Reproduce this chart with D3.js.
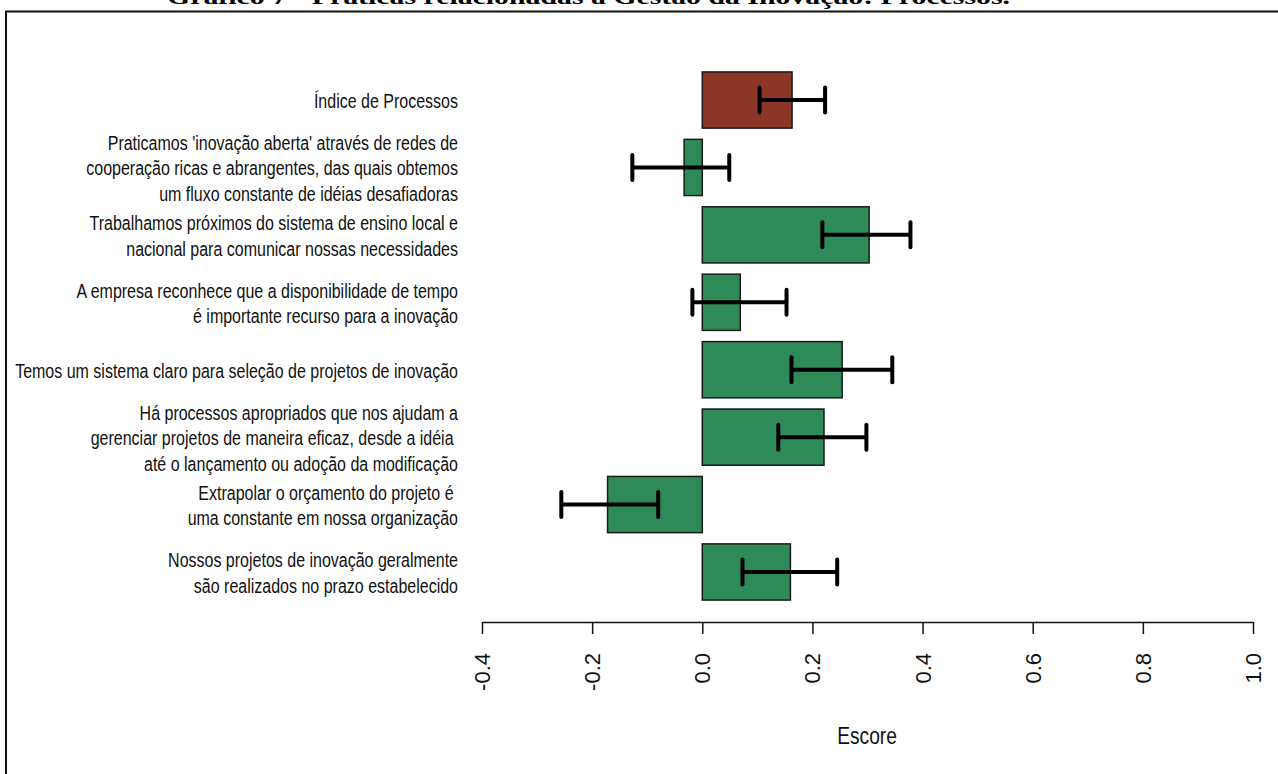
<!DOCTYPE html>
<html>
<head>
<meta charset="utf-8">
<script src="https://cdn.jsdelivr.net/npm/d3@7"></script>
<style>
  body { margin: 0; background: #fff; }
  svg { display: block; }
</style>
</head>
<body>
<div id="grafico"></div>
<script>
const WIDTH = 1278;
const HEIGHT = 774;

// dados (de cima para baixo)
const categorias = [
  ["Índice de Processos"],
  ["Praticamos 'inovação aberta' através de redes de", "cooperação ricas e abrangentes, das quais obtemos", "um fluxo constante de idéias desafiadoras"],
  ["Trabalhamos próximos do sistema de ensino local e", "nacional para comunicar nossas necessidades"],
  ["A empresa reconhece que a disponibilidade de tempo", "é importante recurso para a inovação"],
  ["Temos um sistema claro para seleção de projetos de inovação"],
  ["Há processos apropriados que nos ajudam a", "gerenciar projetos de maneira eficaz, desde a idéia ", "até o lançamento ou adoção da modificação"],
  ["Extrapolar o orçamento do projeto é ", "uma constante em nossa organização"],
  ["Nossos projetos de inovação geralmente", "são realizados no prazo estabelecido"]
];
const escores = [0.163, -0.033, 0.303, 0.069, 0.254, 0.221, -0.172, 0.160];
const limInf = [0.104, -0.127, 0.218, -0.018, 0.162, 0.138, -0.256, 0.073];
const limSup = [0.223, 0.049, 0.378, 0.153, 0.345, 0.298, -0.080, 0.245];
const ticks = [-0.4, -0.2, 0.0, 0.2, 0.4, 0.6, 0.8, 1.0];

const titulo = "Gráfico 7 - Práticas relacionadas à Gestão da Inovação: Processos.";

const corIndice = "#8B3626";
const corBarra = "#2E8B57";

// fonte estreita simulada (sem Arial Narrow instalada)
const FONTE = "Liberation Sans, Arial, sans-serif";
const ESTREITO = 0.8;

const SVG = d3.select("#grafico").append("svg")
  .attr("width", WIDTH).attr("height", HEIGHT);

// título cortado no topo e moldura
SVG.append("text")
  .attr("x", 167).attr("y", 3.5)
  .attr("font-family", "Liberation Serif, serif")
  .attr("font-weight", "bold")
  .attr("font-size", "20px")
  .attr("textLength", 843)
  .attr("lengthAdjust", "spacingAndGlyphs")
  .text(titulo);

SVG.append("path")
  .attr("d", `M6,${HEIGHT} V11.5 H${WIDTH}`)
  .attr("fill", "none")
  .attr("stroke", "#111")
  .attr("stroke-width", 2);

const x = d3.scaleLinear().domain([-0.4, 1.0]).range([482, 1253]);
const y = d3.scaleBand()
  .domain(d3.range(escores.length))
  .range([60.7, 611.3])
  .paddingInner(1 / 6)
  .paddingOuter(1 / 6);

const g = SVG.append("g");

// barras
g.selectAll("rect.barra")
  .data(escores)
  .join("rect")
  .attr("class", "barra")
  .attr("x", d => x(Math.min(0, d)))
  .attr("y", (d, i) => y(i))
  .attr("width", d => Math.abs(x(d) - x(0)))
  .attr("height", y.bandwidth())
  .attr("fill", (d, i) => i === 0 ? corIndice : corBarra)
  .attr("stroke", "#1a1a1a")
  .attr("stroke-width", 1.5);

// intervalos de erro
const erros = g.selectAll("g.erro")
  .data(escores)
  .join("g")
  .attr("class", "erro")
  .attr("transform", (d, i) => `translate(0,${y(i) + y.bandwidth() / 2})`);

erros.append("line")
  .attr("x1", (d, i) => x(limInf[i]))
  .attr("x2", (d, i) => x(limSup[i]))
  .attr("stroke", "#000").attr("stroke-width", 4);

erros.selectAll("line.cap")
  .data((d, i) => [limInf[i], limSup[i]])
  .join("line")
  .attr("class", "cap")
  .attr("x1", d => x(d)).attr("x2", d => x(d))
  .attr("y1", -12.5).attr("y2", 12.5)
  .attr("stroke", "#000").attr("stroke-width", 4)
  .attr("stroke-linecap", "round");

// rótulos das categorias
const rotulos = g.selectAll("text.rotulo")
  .data(categorias)
  .join("text")
  .attr("class", "rotulo")
  .attr("transform", `translate(458,0) scale(${ESTREITO},1)`)
  .attr("text-anchor", "end")
  .attr("font-family", FONTE)
  .attr("font-size", "20px")
  .attr("fill", "#111")
  .style("white-space", "pre");

rotulos.selectAll("tspan")
  .data((d, i) => d.map((linha, j) => ({ linha, j, n: d.length, i })))
  .join("tspan")
  .attr("x", 0)
  .attr("y", d => y(d.i) + y.bandwidth() / 2 + (d.j - (d.n - 1) / 2) * 25.5 + 8)
  .text(d => d.linha);

// eixo x
const eixo = SVG.append("g")
  .attr("transform", "translate(0,622)")
  .call(d3.axisBottom(x).tickValues(ticks).tickSize(12).tickSizeOuter(0).tickFormat(d => d.toFixed(1)));

eixo.select(".domain").attr("stroke", "#111").attr("stroke-width", 1.5);
eixo.selectAll(".tick line").attr("stroke", "#111").attr("stroke-width", 1.5);
eixo.selectAll(".tick text")
  .attr("font-family", FONTE)
  .attr("font-size", "22px")
  .attr("fill", "#111")
  .attr("text-anchor", "end")
  .attr("dominant-baseline", "central")
  .attr("transform", "rotate(-90)")
  .attr("x", -31)
  .attr("y", 0)
  .attr("dy", null);

SVG.append("text")
  .attr("transform", `translate(867,744) scale(${ESTREITO},1)`)
  .attr("text-anchor", "middle")
  .attr("font-family", FONTE)
  .attr("font-size", "24px")
  .attr("fill", "#111")
  .text("Escore");
</script>
</body>
</html>
